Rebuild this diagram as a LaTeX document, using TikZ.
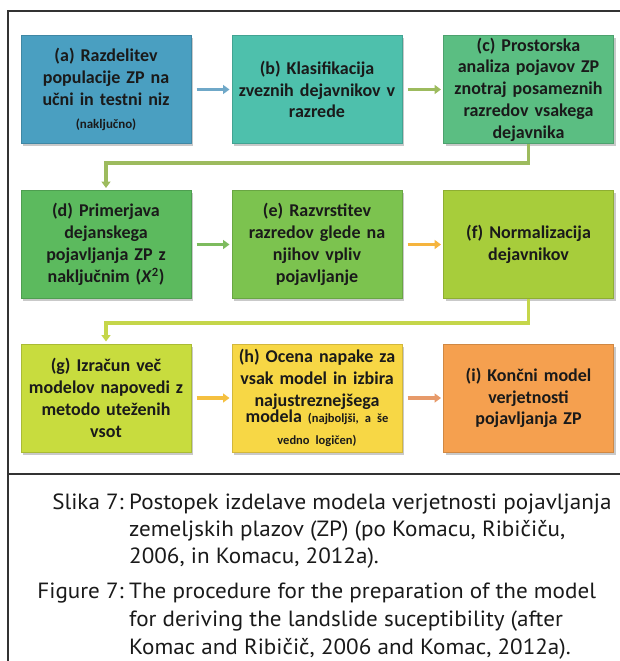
\documentclass[tikz,border=0pt]{standalone}
\usepackage{fontspec}
\setmainfont[WordSpace=0.62]{Carlito}
\newfontfamily\capfont[FakeStretch=1.05]{PT Sans}
\usetikzlibrary{arrows.meta,shadows}
\definecolor{ca}{HTML}{4A9FC1}
\definecolor{cb}{HTML}{4EC0AC}
\definecolor{cc}{HTML}{5BBE82}
\definecolor{cd}{HTML}{5CBA5E}
\definecolor{ce}{HTML}{7CC34F}
\definecolor{cf}{HTML}{A7CD3B}
\definecolor{cg}{HTML}{C8DC3E}
\definecolor{ch}{HTML}{F7D745}
\definecolor{ci}{HTML}{F5A04F}
\definecolor{aab}{HTML}{6FA8C8}
\definecolor{abc}{HTML}{9DBB5E}
\definecolor{ade}{HTML}{7DBB5E}
\definecolor{aef}{HTML}{F5B43E}
\definecolor{afg}{HTML}{C5D64A}
\definecolor{agh}{HTML}{F5C040}
\definecolor{ahi}{HTML}{E79A6A}
\definecolor{txt}{HTML}{1A1A1A}
\definecolor{framecol}{HTML}{333333}
\begin{document}
\begin{tikzpicture}[x=1pt,y=-1pt,
  box/.style={rectangle, minimum width=170pt, minimum height=108pt, inner sep=0pt,
    text width=168pt, align=center, text=txt,
    font=\fontsize{18}{21.8}\selectfont\bfseries,
    draw=#1!85!black, line width=1pt, fill=#1,
    drop shadow={shadow xshift=2pt, shadow yshift=-2.5pt, opacity=0.35, fill=black!60}},
  arr/.style={draw=#1, line width=3.2pt, -{Triangle[length=6.5pt,width=9pt]}, shorten <=5pt, shorten >=2pt},
  conn/.style={draw=#1, line width=3.2pt, -{Triangle[length=6.5pt,width=9pt]}, shorten >=2pt},
  captxt/.style={inner sep=0pt, text=txt, font=\capfont\fontsize{22}{27}\selectfont}]
\useasboundingbox (0,0) rectangle (620,661);
\fill[white] (0,0) rectangle (620,661);
% frame
\draw[framecol, line width=1.1pt] (620,11) -- (8,11) -- (8,661);
\draw[framecol, line width=1.1pt] (8,474) -- (620,474);
% row 1
\node[box=ca] (a) at (106,89.5) {(a) Razdelitev\\populacije ZP na\\učni in testni niz\\[1pt]{\fontsize{13}{15}\selectfont (naključno)}};
\node[box=cb] (b) at (317,89.5) {(b) Klasifikacija\\zveznih dejavnikov v\\razrede};
\node[box=cc] (c) at (528.5,89.5) {(c) Prostorska\\analiza pojavov ZP\\znotraj posameznih\\razredov vsakega\\dejavnika};
% row 2
\node[box=cd] (d) at (106,244.5) {(d) Primerjava\\dejanskega\\pojavljanja ZP z\\naključnim (\textit{X}\textsuperscript{2})};
\node[box=ce] (e) at (317,244.5) {(e) Razvrstitev\\razredov glede na\\njihov vpliv\\pojavljanje};
\node[box=cf] (f) at (528.5,244.5) {(f) Normalizacija\\dejavnikov};
% row 3
\node[box=cg] (g) at (106,398) {(g) Izračun več\\modelov napovedi z\\metodo uteženih\\vsot};
\node[box=ch] (h) at (317,398) {(h) Ocena napake za\\vsak model in izbira\\najustreznejšega\\modela {\fontsize{12.5}{15}\selectfont(najboljši, a še\\vedno logičen)}};
\node[box=ci] (i) at (528.5,398) {(i) Končni model\\verjetnosti\\pojavljanja ZP};
% arrows
\draw[arr=aab] (a.east) -- (b.west);
\draw[arr=abc] (b.east) -- (c.west);
\draw[conn=abc] (c.south) -- ++(0,19) -| (d.north);
\draw[arr=ade] (d.east) -- (e.west);
\draw[arr=aef] (e.east) -- (f.west);
\draw[conn=afg] (f.south) -- ++(0,24) -| (g.north);
\draw[arr=agh] (g.east) -- (h.west);
\draw[arr=ahi] (h.east) -- (i.west);
% caption
\node[captxt, anchor=base east] (s0) at (124,509) {Slika 7:};
\node[captxt, anchor=base west] (s1) at (129,509) {Postopek izdelave modela verjetnosti pojavljanja};
\node[captxt, anchor=base west] (s2) at (129,536) {zemeljskih plazov (ZP) (po Komacu, Ribičiču,};
\node[captxt, anchor=base west] (s3) at (129,563) {2006, in Komacu, 2012a).};
\node[captxt, anchor=base east] (f0) at (124,598) {Figure 7:};
\node[captxt, anchor=base west] (f1) at (129,598) {The procedure for the preparation of the model};
\node[captxt, anchor=base west] (f2) at (129,626) {for deriving the landslide suceptibility (after};
\node[captxt, anchor=base west] (f3) at (129,654) {Komac and Ribičič, 2006 and Komac, 2012a).};
\end{tikzpicture}
\end{document}
